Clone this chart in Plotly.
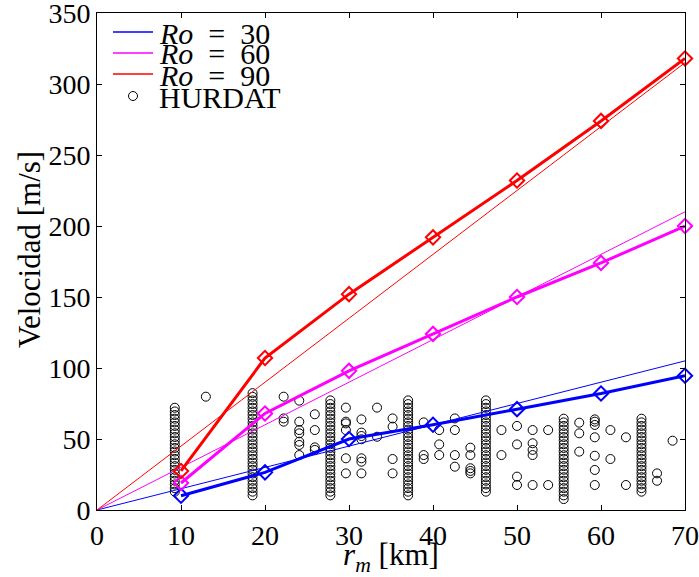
import plotly.graph_objects as go

# Model curves: maximum wind speed vs radius of maximum wind, for three Rossby numbers
r_model_km = [10, 20, 30, 40, 50, 60, 70]
v_ro30 = [10.0, 26.5, 50.0, 60.0, 71.0, 82.0, 94.5]
v_ro60 = [19.0, 68.0, 98.0, 124.0, 150.0, 174.0, 200.0]
v_ro90 = [27.5, 107.0, 152.0, 192.0, 232.0, 274.0, 318.0]

# Linear reference lines through the origin
r_lin_km = [0, 70]
v_lin_ro30 = [0, 105]
v_lin_ro60 = [0, 210]
v_lin_ro90 = [0, 315]

# HURDAT observations on the common radii (5 nm steps), speeds in m/s
col_r_km = [9.26, 18.52, 27.78, 37.04, 46.30, 55.56, 64.82]
col_v_926 = [12.9, 15.4, 18.0, 20.6, 23.1, 25.7, 28.3, 30.9, 33.4, 36.0, 38.6, 41.2,
             43.7, 46.3, 48.9, 51.4, 54.0, 56.6, 59.2, 61.7, 64.3, 66.9, 69.4, 72.0]
col_v_1852 = [10.3, 12.9, 15.4, 18.0, 20.6, 23.1, 25.7, 28.3, 30.9, 33.4, 36.0, 38.6,
              41.2, 43.7, 46.3, 48.9, 51.4, 54.0, 56.6, 59.2, 61.7, 64.3, 66.9, 69.4,
              72.0, 74.6, 77.2, 79.7, 82.3]
col_v_2778 = [10.3, 12.9, 15.4, 18.0, 20.6, 23.1, 25.7, 28.3, 30.9, 33.4, 36.0, 38.6,
              41.2, 43.7, 46.3, 48.9, 51.4, 54.0, 56.6, 59.2, 61.7, 64.3, 66.9, 69.4,
              72.0, 74.6, 77.2]
col_v_3704 = [10.3, 12.9, 15.4, 18.0, 20.6, 23.1, 25.7, 28.3, 30.9, 33.4, 36.0, 38.6,
              41.2, 43.7, 46.3, 48.9, 51.4, 54.0, 56.6, 59.2, 61.7, 64.3, 66.9, 69.4,
              72.0, 74.6, 77.2]
col_v_4630 = [12.9, 15.4, 18.0, 20.6, 23.1, 25.7, 28.3, 30.9, 33.4, 36.0, 38.6, 41.2,
              43.7, 46.3, 48.9, 51.4, 54.0, 56.6, 59.2, 61.7, 64.3, 66.9, 69.4, 72.0,
              74.6, 77.2]
col_v_5556 = [7.7, 10.3, 12.9, 15.4, 18.0, 20.6, 23.1, 25.7, 28.3, 30.9, 33.4, 36.0,
              38.6, 41.2, 43.7, 46.3, 48.9, 51.4, 54.0, 56.6, 59.2, 61.7, 64.3]
col_v_6482 = [12.9, 15.4, 18.0, 20.6, 23.1, 25.7, 28.3, 30.9, 33.4, 36.0, 38.6, 41.2,
              43.7, 46.3, 48.9, 51.4, 54.0, 56.6, 59.2, 61.7, 64.3]

# HURDAT observations at other radii
obs_r_km = [12.96,
            22.22, 22.22, 22.22,
            24.08, 24.08, 24.08, 24.08, 24.08, 24.08, 24.08,
            25.93, 25.93, 25.93, 25.93,
            29.63, 29.63, 29.63, 29.63, 29.63, 29.63,
            31.48, 31.48, 31.48, 31.48, 31.48, 31.48, 31.48,
            33.34, 33.34,
            35.19, 35.19, 35.19, 35.19,
            38.89, 38.89, 38.89,
            40.74, 40.74, 40.74,
            42.60, 42.60, 42.60, 42.60,
            44.45, 44.45, 44.45, 44.45, 44.45,
            48.15, 48.15,
            50.00, 50.00, 50.00, 50.00,
            51.86, 51.86, 51.86, 51.86, 51.86,
            53.71, 53.71,
            57.41, 57.41, 57.41,
            59.26, 59.26, 59.26, 59.26, 59.26, 59.26, 59.26,
            61.12, 61.12,
            62.97, 62.97,
            66.67, 66.67,
            68.52]
obs_v_ms = [79.8,
            79.8, 64.5, 62.2,
            77.0, 62.2, 56.3, 54.0, 48.1, 45.8, 38.7,
            67.4, 56.3, 44.1, 42.3,
            72.1, 62.2, 61.0, 56.3, 36.4, 25.8,
            63.8, 54.5, 52.1, 49.8, 36.4, 34.0, 25.8,
            72.1, 51.6,
            64.5, 58.7, 35.9, 25.8,
            61.7, 38.7, 35.9,
            56.3, 46.2, 38.7,
            64.5, 56.3, 38.7, 30.5,
            43.9, 38.7, 29.4, 27.5, 25.8,
            56.3, 38.7,
            59.2, 46.2, 23.5, 17.6,
            56.3, 47.0, 42.3, 38.7, 17.6,
            56.3, 17.6,
            61.5, 54.0, 41.1,
            63.8, 62.2, 59.9, 51.2, 38.2, 28.2, 17.6,
            56.3, 35.9,
            51.2, 17.6,
            25.8, 20.6,
            48.8]

legend_labels = ["<i>Ro</i>&nbsp; =&nbsp; 30", "<i>Ro</i>&nbsp; =&nbsp; 60",
                 "<i>Ro</i>&nbsp; =&nbsp; 90", "HURDAT"]
x_title = "<i>r</i><sub><i>m</i></sub> [km]"
y_title = "Velocidad [m/s]"

BLUE, MAGENTA, RED = "#0000FF", "#FF00FF", "#FF0000"
FONT = "Times New Roman"

hurdat_r = []
hurdat_v = []
for r, vs in zip(col_r_km, [col_v_926, col_v_1852, col_v_2778, col_v_3704,
                            col_v_4630, col_v_5556, col_v_6482]):
    hurdat_r += [r] * len(vs)
    hurdat_v += vs
hurdat_r += obs_r_km
hurdat_v += obs_v_ms

fig = go.Figure()

fig.add_trace(go.Scatter(
    x=hurdat_r, y=hurdat_v, mode="markers", name="HURDAT",
    marker=dict(symbol="circle-open", size=9, color="black", line=dict(width=1)),
    showlegend=False,
))

for v_lin, col in [(v_lin_ro30, BLUE), (v_lin_ro60, MAGENTA), (v_lin_ro90, RED)]:
    fig.add_trace(go.Scatter(
        x=r_lin_km, y=v_lin, mode="lines", line=dict(color=col, width=1),
        showlegend=False,
    ))

for v, col in [(v_ro30, BLUE), (v_ro60, MAGENTA), (v_ro90, RED)]:
    fig.add_trace(go.Scatter(
        x=r_model_km, y=v, mode="lines+markers", cliponaxis=False,
        line=dict(color=col, width=3),
        marker=dict(symbol="diamond-open", size=11, color=col, line=dict(width=2)),
        showlegend=False,
    ))

# Pixel frame of the axes inside the 699x577 page
L, R_, T, B = 97, 685, 13, 510
W, H = R_ - L, B - T


def px(xp):
    return (xp - L) / W


def py(yp):
    return (B - yp) / H


# Legend box in the upper-left corner of the axes
legend_rows_y = [32, 53, 74, 96]
for yrow, col in zip(legend_rows_y[:3], [BLUE, MAGENTA, RED]):
    fig.add_shape(type="line", xref="paper", yref="paper",
                  x0=px(113), x1=px(153), y0=py(yrow), y1=py(yrow),
                  line=dict(color=col, width=1.5))
fig.add_shape(type="circle", xref="paper", yref="paper",
              x0=px(128.5), x1=px(137.5), y0=py(100.5), y1=py(91.5),
              line=dict(color="black", width=1))
for yrow, text in zip(legend_rows_y, legend_labels):
    fig.add_annotation(x=px(157), y=py(yrow + 1), xref="paper", yref="paper",
                       text=text, showarrow=False, xanchor="left", yanchor="middle",
                       font=dict(family=FONT, size=30, color="black"))

# Vertical axis label
fig.add_annotation(x=px(29), y=py(250), xref="paper", yref="paper",
                   text=y_title, textangle=-90, showarrow=False,
                   xanchor="center", yanchor="middle",
                   font=dict(family=FONT, size=31, color="black"))

axis_common = dict(
    showline=True, linecolor="black", linewidth=1, mirror="ticks",
    ticks="inside", ticklen=5, tickcolor="black", showgrid=False, zeroline=False,
    ticklabeloverflow="allow", automargin=False,
    tickfont=dict(family=FONT, size=28, color="black"),
)

fig.update_xaxes(range=[0, 70], tickvals=[0, 10, 20, 30, 40, 50, 60, 70],
                 title=dict(text=x_title,
                            font=dict(family=FONT, size=31, color="black"), standoff=0),
                 **axis_common)
fig.update_yaxes(range=[0, 350], tickvals=[0, 50, 100, 150, 200, 250, 300, 350],
                 **axis_common)

fig.update_layout(
    width=699, height=577,
    margin=dict(l=L, r=699 - R_, t=T, b=577 - B),
    font=dict(family=FONT, color="black"),
    plot_bgcolor="white", paper_bgcolor="white",
    showlegend=False,
)

fig.write_html("out.html")
